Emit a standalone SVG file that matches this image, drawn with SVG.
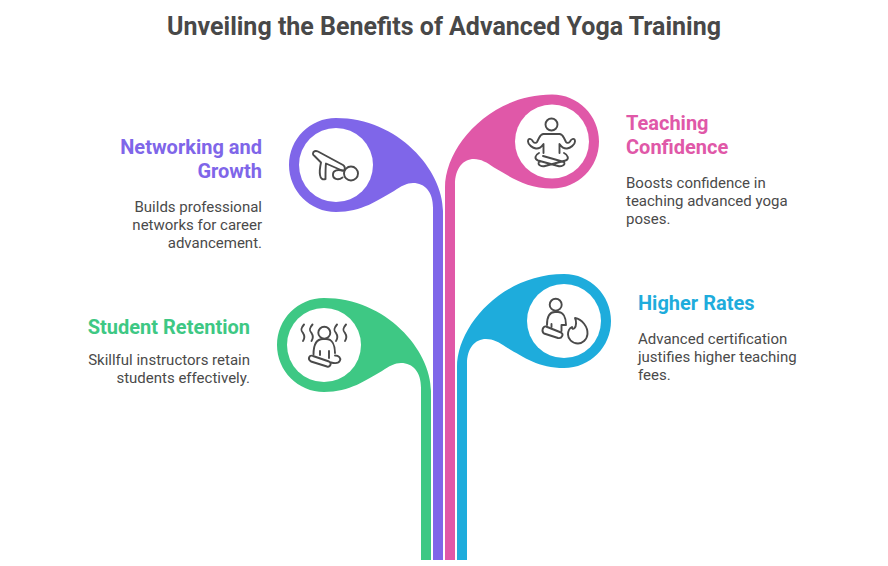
<svg xmlns="http://www.w3.org/2000/svg" width="888" height="566" viewBox="0 0 888 566">
<style>
text{font-family:Roboto,"Liberation Sans",sans-serif}
.title{font-size:25px;font-weight:700;fill:#484848}
.head{font-size:20px;font-weight:700}
.body{font-size:15px;fill:#4a4a4a}
.end{text-anchor:end}
.hole{fill:#fff}
.icon{fill:none;stroke:#4a4a4a;stroke-width:1.900;stroke-linecap:round;stroke-linejoin:round}
</style>
<rect width="888" height="566" fill="#fff"/>
<text class="title" x="444" y="35" text-anchor="middle">Unveiling the Benefits of Advanced Yoga Training</text>
<g id="connectors">
<path fill="#3ec884" d="M431 560V391C431 350 386 298 324 298C298 298 277 319 277 345C277 371 298 392 324 392C350 392 366 380 382 371C389 366 395 363 401 363C413 363 421 372 421 388V560Z"/>
<path fill="#7f66e9" d="M443 560V211C443 170 398 118 336 118C310 118 289 139 289 165C289 191 310 212 336 212C362 212 378 200 394 191C401 186 407 183 413 183C425 183 433 192 433 208V560Z"/>
<path fill="#e058a8" d="M445 560V187.500C445 146.500 490 94.500 552 94.500C578 94.500 599 115.500 599 141.500C599 167.500 578 188.500 552 188.500C526 188.500 510 176.500 494 167.500C487 162.500 481 159 474 159C463 159 455 168.500 455 184.500V560Z"/>
<path fill="#1eacdc" d="M457 560V367C457 326 502 274 564 274C590 274 611 295 611 321C611 347 590 368 564 368C538 368 522 356 506 347C499 342 493 339 486 339C475 339 467 348 467 364V560Z"/>
</g>
<g id="node-networking">
<circle class="hole" cx="336" cy="165" r="37"/>
<path class="icon" d="M313.500 152C315 150.500 316 150.500 318 151.500L343 165C346 167 345 171.500 342 170.500L326 163.500C325.500 166 325.500 172 325.500 179M313.500 152C312.500 153.500 313 155 314 155.500L321 162.500C320 167 319.500 172 320 175C320.500 179 323 180 325.500 179"/>
<path class="icon" d="M342.500 170.500C338 169.500 333.500 170 333 174C332.500 179 338 181 342.500 177.500"/>
<circle class="icon" cx="351" cy="173.500" r="7"/>
<text class="head end" x="262" y="154" fill="#7f66e9">Networking and</text>
<text class="head end" x="262" y="178" fill="#7f66e9">Growth</text>
<text class="body end" x="262" y="212">Builds professional</text>
<text class="body end" x="262" y="230">networks for career</text>
<text class="body end" x="262" y="248">advancement.</text>
</g>
<g id="node-teaching">
<circle class="hole" cx="552" cy="141.500" r="37"/>
<circle class="icon" cx="551.500" cy="124.500" r="6"/>
<path class="icon" d="M543.500 134H559.500C561.500 134 563 136 564 138L566 142C567 143.500 569 143 570 141.500C571.500 138.500 575 137.500 575 141.500C575 145 570 148 567 148.500C563 149 561 146 559.500 144V153M543.500 134C541.500 134 540 136 539 138L537 142C536 143.500 534 143 533 141.500C531.500 138.500 528 137.500 528 141.500C528 145 533 148 536 148.500C540 149 542 146 543.500 144V153"/>
<path class="icon" d="M539 153C535 155 534 159 538 160.500L558 166C561 167 566 165 564 162L543 156M564 153C568 155 569.500 159 565.500 160.500L545 166C542 167 537 165 539 162"/>
<text class="head" x="626" y="130" fill="#e058a8">Teaching</text>
<text class="head" x="626" y="154" fill="#e058a8">Confidence</text>
<text class="body" x="626" y="188">Boosts confidence in</text>
<text class="body" x="626" y="206">teaching advanced yoga</text>
<text class="body" x="626" y="224">poses.</text>
</g>
<g id="node-retention">
<circle class="hole" cx="324" cy="345" r="37"/>
<circle class="icon" cx="324.300" cy="332.700" r="6"/>
<path class="icon" d="M304 324.500C300 329 301 331 303 333C305 336 305 338 303 341M312.500 324.500C308.500 329 309.500 331 311.500 333C313.500 336 313.500 338 311.500 341M337 324.500C333 329 334 331 336 333C338 336 338 338 336 341M346 324.500C342 329 343 331 345 333C347 336 347 338 345 341"/>
<path class="icon" d="M313.500 354.500C313.500 345 316 339 323 339H326C332 339 335 345 335 353M320 351V355M329 351V358"/>
<path class="icon" d="M313 356L329 361.500C332 363 330.500 367.500 327 366.500L311 361.500C307 359 309.500 354.500 313 356Z"/>
<path class="icon" d="M335 355.500C339 355.500 341 358 340 360.500C339 363 335 363.500 331 362.500"/>
<text class="head end" x="250" y="334" fill="#3ec884">Student Retention</text>
<text class="body end" x="250" y="365">Skillful instructors retain</text>
<text class="body end" x="250" y="383">students effectively.</text>
</g>
<g id="node-rates">
<circle class="hole" cx="564" cy="321" r="37"/>
<circle class="icon" cx="555.700" cy="304.700" r="6"/>
<path class="icon" d="M547 325C547 317 549 312 555 312H558C563 312 566 317 566 325H561.500V331M551.500 324V327"/>
<path class="icon" d="M546 326.500L561 332.500C564 334 562 339 558 338L544 333.500C541 331.500 543 325.500 546 326.500Z"/>
<path class="icon" d="M575 318C582 319 588 327 587.500 334C587 340 582 343.500 578 343.500C572 343.500 568 339 568 334.500C568 331 570 328 572 327C572 329 573 329.500 574.500 328C576.500 326 576.500 321 575 318Z"/>
<text class="head" x="638" y="310" fill="#1eacdc">Higher Rates</text>
<text class="body" x="638" y="344">Advanced certification</text>
<text class="body" x="638" y="362">justifies higher teaching</text>
<text class="body" x="638" y="380">fees.</text>
</g>
</svg>
